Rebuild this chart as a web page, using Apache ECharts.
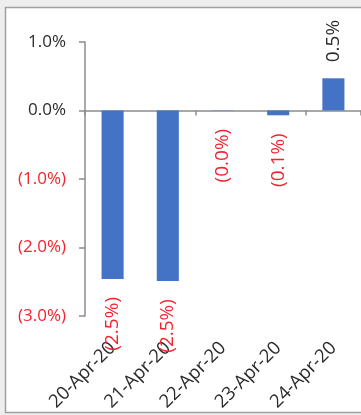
<!DOCTYPE html>
<html>
<head>
<meta charset="utf-8">
<style>
  html, body { margin: 0; padding: 0; background: #eeeeee; }
  #chart { width: 361px; height: 415px; }
</style>
<script src="https://cdn.jsdelivr.net/npm/echarts@6/dist/echarts.min.js"></script>
</head>
<body>
<div id="chart"></div>
<script>
// Daily return, in percent
const categories = ['20-Apr-20', '21-Apr-20', '22-Apr-20', '23-Apr-20', '24-Apr-20'];
const dailyReturn = [-2.46, -2.49, -0.004, -0.07, 0.47];
const yTicks = { min: -3, max: 1, step: 1 };

const RED = '#f5222d';
const DARK = '#2b2b2b';
const AXIS = '#8c8c8c';
const BLUE = '#4472c4';

function pct(v) {
  const s = Math.abs(v).toFixed(1) + '%';
  return v < 0 ? '(' + s + ')' : s;
}

const barData = dailyReturn.map(v => ({
  value: v,
  label: {
    position: v < 0 ? 'bottom' : 'top',
    align: v < 0 ? 'right' : 'left',
    distance: v < 0 ? 18 : 16,
    color: v < 0 ? RED : DARK
  }
}));

const chart = echarts.init(document.getElementById('chart'), null, { renderer: 'canvas' });
chart.setOption({
  backgroundColor: 'transparent',
  animation: false,
  textStyle: { fontFamily: 'Open Sans' },
  graphic: [{
    type: 'rect',
    z: -10,
    shape: { x: 5.5, y: 7.5, width: 420, height: 405 },
    style: { fill: '#ffffff', stroke: '#a0a0a0', lineWidth: 1.5 }
  }],
  grid: { left: 85, right: -1.5, top: 42, bottom: 99, containLabel: false },
  xAxis: [{
    type: 'category',
    data: categories,
    position: 'bottom',
    axisLine: { onZero: true, lineStyle: { color: AXIS, width: 1.5 } },
    axisTick: { show: true, length: 5, lineStyle: { color: AXIS, width: 1.5 } },
    axisLabel: { show: false }
  }, {
    type: 'category',
    data: categories,
    position: 'bottom',
    axisLine: { show: false, onZero: false },
    axisTick: { show: false },
    axisLabel: { show: true, rotate: 45, margin: 29, fontSize: 18.5, color: DARK, interval: 0 }
  }],
  yAxis: {
    type: 'value',
    min: yTicks.min,
    max: yTicks.max,
    interval: yTicks.step,
    splitLine: { show: false },
    axisLine: { show: true, lineStyle: { color: AXIS, width: 1.5 } },
    axisTick: { show: true, length: 6, lineStyle: { color: AXIS, width: 1.5 } },
    axisLabel: {
      margin: 19,
      fontSize: 17,
      formatter: v => pct(v),
      color: v => (Number(v) < 0 ? RED : DARK)
    }
  },
  series: [{
    type: 'bar',
    xAxisIndex: 0,
    data: barData,
    barWidth: '40%',
    itemStyle: { color: BLUE },
    label: {
      show: true,
      rotate: 90,
      verticalAlign: 'middle',
      fontSize: 19,
      formatter: p => pct(p.value)
    }
  }]
});
</script>
</body>
</html>
